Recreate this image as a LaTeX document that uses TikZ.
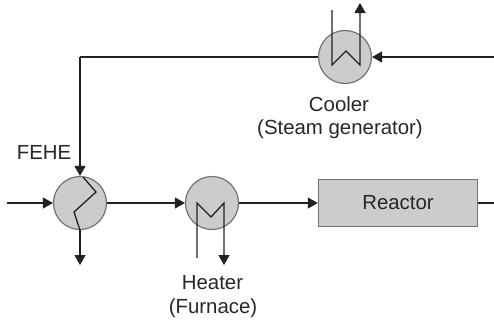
\documentclass[tikz,border=0pt]{standalone}
\usepackage{fontspec}
\setmainfont{Liberation Sans}
\usetikzlibrary{arrows.meta}
\definecolor{fillg}{gray}{0.8}
\definecolor{edgeg}{gray}{0.45}
\definecolor{linek}{gray}{0.13}
\tikzset{
  exch/.style={circle,draw=edgeg,fill=fillg,line width=1.2pt,minimum size=53pt,inner sep=0pt},
  reactorbox/.style={rectangle,draw=edgeg,fill=fillg,line width=1.5pt,minimum width=159pt,minimum height=47pt,inner sep=0pt},
  lbl/.style={font=\fontsize{20.4}{23}\selectfont,text=black!85,inner sep=0pt,align=center},
  pipe/.style={draw=linek,line width=1.3pt},
  flow/.style={pipe,-{Triangle[length=10pt,width=11pt]}},
}
\begin{document}
\begin{tikzpicture}[x=1pt,y=-1pt]
\useasboundingbox (0,0) rectangle (494,322);
\node[exch] (fehe) at (80,203) {};
\node[exch] (heater) at (212,203) {};
\node[exch] (cooler) at (345,57) {};
\node[reactorbox] (reactor) at (398,203) {};
\node[lbl] (reactorlabel) at (398,203) {Reactor};
\node[lbl] (fehelabel) at (44,152) {FEHE};
\node[lbl] (heaterlabel) at (212.5,283) {Heater};
\node[lbl] (furnacelabel) at (213,308) {(Furnace)};
\node[lbl] (coolerlabel) at (339,104) {Cooler};
\node[lbl] (steamlabel) at (340,129) {(Steam generator)};
\coordinate (feedin) at (7,203);
\coordinate (feheout) at (80,265);
\coordinate (bend) at (80,57);
\coordinate (recycle) at (494,57);
\coordinate (reactorout) at (494,203);
\coordinate (htop) at (197,258);
\coordinate (hend) at (224,265);
\coordinate (ctop) at (332,10);
\coordinate (cend) at (360,3);
\coordinate (fehein) at (83,177);
\draw[flow] (feedin) -- (fehe.west);
\draw[flow] (fehe.east) -- (heater.west);
\draw[flow] (heater.east) -- (reactor.west);
\draw[pipe] (reactor.east) -- (reactorout);
\draw[flow] (recycle) -- (cooler.east);
\draw[pipe] (cooler.west) -- (bend);
\draw[flow] (bend) -- (fehe.north);
\draw[flow] (fehe.south) -- (feheout);
\draw[pipe,line join=miter] (fehein) -- (96,192) -- (74,212) -- (fehe.south);
\draw[flow,line join=miter] (htop) -- (197,203) -- (211,217) -- (224,203) -- (hend);
\draw[flow,line join=miter] (ctop) -- (332,65) -- (346,51) -- (360,65) -- (cend);
\end{tikzpicture}
\end{document}
